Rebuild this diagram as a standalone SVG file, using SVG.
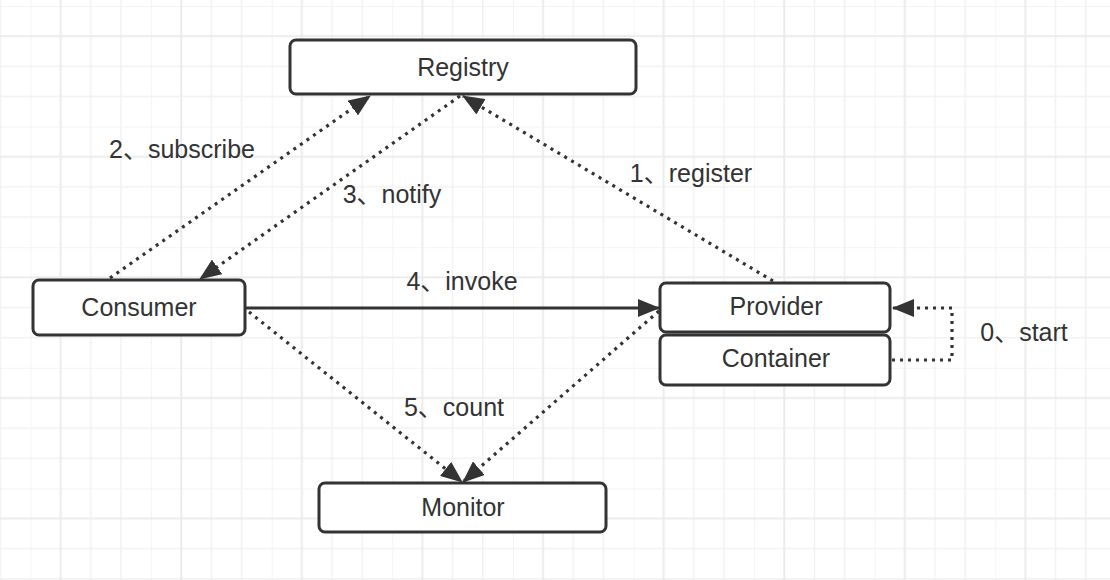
<svg xmlns="http://www.w3.org/2000/svg" width="1110" height="580" viewBox="0 0 1110 580">
<style>
.box{fill:#fff;stroke:#333;stroke-width:3}
.lbl{font-family:"Liberation Sans","Noto Sans CJK SC",sans-serif;font-size:25px;fill:#333;text-anchor:middle}
.dot{fill:none;stroke:#333;stroke-width:3.2;stroke-dasharray:3 5}
.solid{fill:none;stroke:#333;stroke-width:3}
</style>
<defs>
<pattern id="grid" patternUnits="userSpaceOnUse" x="30.5" y="6" width="120.6" height="120.6">
<path d="M0,0V120.6M60.3,0V120.6M90.45,0V120.6M0,0H120.6M0,60.3H120.6M0,90.45H120.6" stroke="#f1f1f1" stroke-width="1.5" fill="none"/>
<path d="M30.15,0V120.6M0,30.15H120.6" stroke="#ebebeb" stroke-width="2" fill="none"/>
</pattern>
<marker id="ah" markerUnits="userSpaceOnUse" viewBox="0 0 22 18" markerWidth="22" markerHeight="18" refX="21" refY="9" orient="auto">
<path d="M0,0L22,9L0,18z" fill="#333"/>
</marker>
</defs>
<rect width="1110" height="580" fill="#fff"/>
<rect width="1110" height="580" fill="url(#grid)"/>
<g id="connectors">
<line class="dot" x1="110" y1="278" x2="370" y2="96" marker-end="url(#ah)"/>
<line class="dot" x1="460" y1="96" x2="200" y2="279" marker-end="url(#ah)"/>
<line class="dot" x1="773" y1="281" x2="463" y2="96" marker-end="url(#ah)"/>
<line class="solid" x1="246" y1="308" x2="659" y2="308" marker-end="url(#ah)"/>
<line class="dot" x1="249" y1="312" x2="462" y2="482" marker-end="url(#ah)"/>
<line class="dot" x1="659" y1="311" x2="463" y2="482" marker-end="url(#ah)"/>
<path class="dot" d="M892,360H952V308H893" marker-end="url(#ah)"/>
<text class="lbl" x="182" y="158">2、subscribe</text>
<text class="lbl" x="392" y="203">3、notify</text>
<text class="lbl" x="691" y="182">1、register</text>
<text class="lbl" x="462" y="290">4、invoke</text>
<text class="lbl" x="1024" y="341">0、start</text>
<text class="lbl" x="454" y="416">5、count</text>
</g>
<g id="registry">
<rect class="box" x="290" y="40" width="346" height="54" rx="6"/>
<text class="lbl" x="463" y="76">Registry</text>
</g>
<g id="consumer">
<rect class="box" x="33" y="280" width="212" height="55" rx="6"/>
<text class="lbl" x="139" y="316">Consumer</text>
</g>
<g id="provider">
<rect class="box" x="660" y="283" width="230" height="49" rx="6"/>
<text class="lbl" x="776" y="315">Provider</text>
</g>
<g id="container">
<rect class="box" x="660" y="335" width="230" height="50" rx="6"/>
<text class="lbl" x="776" y="367">Container</text>
</g>
<g id="monitor">
<rect class="box" x="319" y="483" width="287" height="49" rx="6"/>
<text class="lbl" x="463" y="516">Monitor</text>
</g>
</svg>
